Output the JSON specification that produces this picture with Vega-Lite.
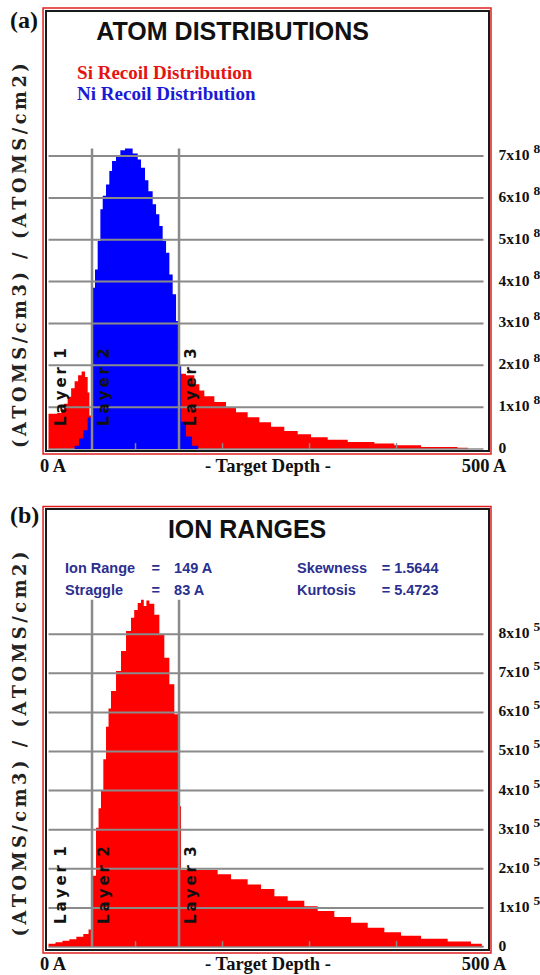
{
  "$schema": "https://vega.github.io/schema/vega-lite/v6.json",
  "background": "white",
  "padding": {"left": 8, "top": 6, "right": 0, "bottom": 0},
  "spacing": 58,
  "bounds": "flush",
  "resolve": {"scale": {"x": "independent", "y": "independent"}},
  "config": {
    "view": {"stroke": "#1a1a1a", "strokeWidth": 2},
    "axis": {"grid": false, "ticks": false, "domain": false}
  },
  "datasets": {
    "one": [{}],
    "atoms": [
      {"series": "Si", "depth": 0, "conc": 8.4e7},
      {"series": "Si", "depth": 5, "conc": 8.4e7},
      {"series": "Si", "depth": 10, "conc": 8.6e7},
      {"series": "Si", "depth": 15, "conc": 9.5e7},
      {"series": "Si", "depth": 18, "conc": 1.08e8},
      {"series": "Si", "depth": 22, "conc": 1.25e8},
      {"series": "Si", "depth": 26, "conc": 1.45e8},
      {"series": "Si", "depth": 30, "conc": 1.62e8},
      {"series": "Si", "depth": 34, "conc": 1.76e8},
      {"series": "Si", "depth": 38, "conc": 1.85e8},
      {"series": "Si", "depth": 42, "conc": 1.72e8},
      {"series": "Si", "depth": 45, "conc": 1.35e8},
      {"series": "Si", "depth": 47, "conc": 8.0e7},
      {"series": "Si", "depth": 49, "conc": 0},
      {"series": "Si", "depth": 150, "conc": 1.80e8},
      {"series": "Si", "depth": 158, "conc": 1.76e8},
      {"series": "Si", "depth": 167.6, "conc": 1.55e8},
      {"series": "Si", "depth": 173.4, "conc": 1.40e8},
      {"series": "Si", "depth": 179.1, "conc": 1.26e8},
      {"series": "Si", "depth": 190.6, "conc": 1.12e8},
      {"series": "Si", "depth": 204, "conc": 9.8e7},
      {"series": "Si", "depth": 215.5, "conc": 8.8e7},
      {"series": "Si", "depth": 228.9, "conc": 7.6e7},
      {"series": "Si", "depth": 242.3, "conc": 6.4e7},
      {"series": "Si", "depth": 255.7, "conc": 5.3e7},
      {"series": "Si", "depth": 271, "conc": 4.3e7},
      {"series": "Si", "depth": 286.4, "conc": 3.5e7},
      {"series": "Si", "depth": 301.7, "conc": 2.8e7},
      {"series": "Si", "depth": 320.9, "conc": 2.2e7},
      {"series": "Si", "depth": 343.9, "conc": 1.7e7},
      {"series": "Si", "depth": 374.5, "conc": 1.3e7},
      {"series": "Si", "depth": 397.5, "conc": 9.0e6},
      {"series": "Si", "depth": 428.2, "conc": 5.0e6},
      {"series": "Si", "depth": 470, "conc": 3.0e6},
      {"series": "Si", "depth": 482, "conc": 0},
      {"series": "Si", "depth": 500, "conc": 0},
      {"series": "Ni", "depth": 0, "conc": 0},
      {"series": "Ni", "depth": 30, "conc": 8.0e6},
      {"series": "Ni", "depth": 35, "conc": 2.5e7},
      {"series": "Ni", "depth": 40, "conc": 4.5e7},
      {"series": "Ni", "depth": 45, "conc": 7.5e7},
      {"series": "Ni", "depth": 50, "conc": 3.85e8},
      {"series": "Ni", "depth": 53.4, "conc": 4.29e8},
      {"series": "Ni", "depth": 56.5, "conc": 4.97e8},
      {"series": "Ni", "depth": 59.6, "conc": 5.73e8},
      {"series": "Ni", "depth": 62.3, "conc": 6.05e8},
      {"series": "Ni", "depth": 66.1, "conc": 6.32e8},
      {"series": "Ni", "depth": 69.9, "conc": 6.64e8},
      {"series": "Ni", "depth": 73.0, "conc": 6.88e8},
      {"series": "Ni", "depth": 77.6, "conc": 7.00e8},
      {"series": "Ni", "depth": 82.6, "conc": 7.14e8},
      {"series": "Ni", "depth": 87.9, "conc": 7.18e8},
      {"series": "Ni", "depth": 96.7, "conc": 7.06e8},
      {"series": "Ni", "depth": 102.5, "conc": 6.92e8},
      {"series": "Ni", "depth": 106.3, "conc": 6.72e8},
      {"series": "Ni", "depth": 110.9, "conc": 6.42e8},
      {"series": "Ni", "depth": 114.8, "conc": 6.16e8},
      {"series": "Ni", "depth": 119.7, "conc": 5.85e8},
      {"series": "Ni", "depth": 123.6, "conc": 5.61e8},
      {"series": "Ni", "depth": 127.4, "conc": 5.33e8},
      {"series": "Ni", "depth": 131.2, "conc": 4.97e8},
      {"series": "Ni", "depth": 135.1, "conc": 4.69e8},
      {"series": "Ni", "depth": 138.9, "conc": 4.17e8},
      {"series": "Ni", "depth": 142.7, "conc": 3.70e8},
      {"series": "Ni", "depth": 146.6, "conc": 3.06e8},
      {"series": "Ni", "depth": 150, "conc": 1.98e8},
      {"series": "Ni", "depth": 152.5, "conc": 6.5e7},
      {"series": "Ni", "depth": 158, "conc": 3.0e7},
      {"series": "Ni", "depth": 165, "conc": 8.0e6},
      {"series": "Ni", "depth": 172, "conc": 0},
      {"series": "Ni", "depth": 500, "conc": 0}
    ],
    "ions": [
      {"depth": 0, "conc": 8000},
      {"depth": 8, "conc": 12000},
      {"depth": 16, "conc": 16000},
      {"depth": 24, "conc": 20000},
      {"depth": 32, "conc": 26000},
      {"depth": 40, "conc": 33000},
      {"depth": 46, "conc": 45000},
      {"depth": 50, "conc": 182000},
      {"depth": 54.6, "conc": 305000},
      {"depth": 57.5, "conc": 355000},
      {"depth": 60.3, "conc": 399000},
      {"depth": 63, "conc": 480000},
      {"depth": 66.1, "conc": 563000},
      {"depth": 69, "conc": 610000},
      {"depth": 71.8, "conc": 655000},
      {"depth": 77.6, "conc": 706000},
      {"depth": 83.3, "conc": 757000},
      {"depth": 89.1, "conc": 808000},
      {"depth": 94.8, "conc": 842000},
      {"depth": 98.5, "conc": 862000},
      {"depth": 102.5, "conc": 880000},
      {"depth": 106.3, "conc": 888000},
      {"depth": 109.5, "conc": 872000},
      {"depth": 112.5, "conc": 886000},
      {"depth": 115.9, "conc": 878000},
      {"depth": 121.6, "conc": 850000},
      {"depth": 127.4, "conc": 800000},
      {"depth": 133.1, "conc": 740000},
      {"depth": 138.9, "conc": 672000},
      {"depth": 144.6, "conc": 595000},
      {"depth": 150, "conc": 360000},
      {"depth": 152.3, "conc": 197000},
      {"depth": 194.4, "conc": 186000},
      {"depth": 209.8, "conc": 173000},
      {"depth": 228.9, "conc": 160000},
      {"depth": 244.3, "conc": 148000},
      {"depth": 259.6, "conc": 130000},
      {"depth": 274.9, "conc": 118000},
      {"depth": 294, "conc": 104000},
      {"depth": 309.4, "conc": 92000},
      {"depth": 328.5, "conc": 77000},
      {"depth": 347.7, "conc": 62000},
      {"depth": 366.9, "conc": 49000},
      {"depth": 386, "conc": 38000},
      {"depth": 405.2, "conc": 29000},
      {"depth": 428.2, "conc": 21000},
      {"depth": 458.8, "conc": 14000},
      {"depth": 485.6, "conc": 8000},
      {"depth": 498, "conc": 3000},
      {"depth": 500, "conc": 0}
    ],
    "gridA": [
      {"level": 1e8}, {"level": 2e8}, {"level": 3e8}, {"level": 4e8},
      {"level": 5e8}, {"level": 6e8}, {"level": 7e8}
    ],
    "gridB": [
      {"level": 1e5}, {"level": 2e5}, {"level": 3e5}, {"level": 4e5},
      {"level": 5e5}, {"level": 6e5}, {"level": 7e5}, {"level": 8e5}
    ],
    "layers": [
      {"start": 0, "label": "L\u2009a\u2009y\u2009e\u2009r \u20091"},
      {"start": 50, "label": "L\u2009a\u2009y\u2009e\u2009r \u20092"},
      {"start": 150, "label": "L\u2009a\u2009y\u2009e\u2009r \u20093"}
    ],
    "xticks": [{"depth": 100}, {"depth": 200}, {"depth": 300}, {"depth": 400}]
  },
  "vconcat": [
    {
      "width": 443,
      "height": 440,
      "data": {"name": "one"},
      "layer": [
        {
          "data": {"name": "atoms"},
          "transform": [{"filter": "datum.series === 'Si'"}],
          "mark": {"type": "area", "interpolate": "step-after"},
          "encoding": {
            "x": {
              "field": "depth", "type": "quantitative",
              "scale": {"domain": [-2.9, 506.3], "nice": false, "zero": false},
              "axis": {
                "values": [0, 500],
                "labelExpr": "datum.value + ' A'",
                "labelFont": "Liberation Serif", "labelFontWeight": "bold", "labelFontSize": 18.5,
                "labelColor": "#111", "labelPadding": 5, "labelBaseline": "top", "labelFlush": false,
                "labelOffset": {"condition": {"test": "datum.value === 0", "value": 4}, "value": 0},
                "title": "- Target Depth -",
                "titleFont": "Liberation Serif", "titleFontWeight": "bold", "titleFontSize": 18.5,
                "titleColor": "#111", "titleY": 20, "titleBaseline": "alphabetic"
              }
            },
            "y": {
              "field": "conc", "type": "quantitative", "stack": null,
              "scale": {"domain": [-4.8e6, 1.0466e9], "nice": false, "zero": false},
              "axis": {
                "orient": "right",
                "values": [0, 1e8, 2e8, 3e8, 4e8, 5e8, 6e8, 7e8],
                "labelExpr": "datum.value == 0 ? '0' : format(datum.value / 1e8, 'd') + 'x10'",
                "labelFont": "Liberation Serif", "labelFontWeight": "bold", "labelFontSize": 15.5,
                "labelColor": "#111", "labelPadding": 9, "labelAlign": "left", "labelBaseline": "middle",
                "labelOffset": -1.5, "labelOverlap": false,
                "title": null
              }
            },
            "color": {
              "field": "series", "type": "nominal",
              "scale": {"domain": ["Si", "Ni"], "range": ["#ff0000", "#0000ff"]},
              "legend": null
            }
          }
        },
        {
          "mark": {"type": "rect", "filled": false, "stroke": "#e02020", "strokeWidth": 1.5},
          "encoding": {
            "x": {"datum": -6.3, "type": "quantitative"},
            "x2": {"datum": 508.6},
            "y": {"datum": 1.0538e9, "type": "quantitative"},
            "y2": {"datum": -1.19e7}
          }
        },
        {
          "mark": {"type": "rule", "color": "#8a8a8a", "strokeWidth": 1.5},
          "encoding": {
            "x": {"datum": 0, "type": "quantitative"},
            "x2": {"datum": 500},
            "y": {"datum": 0, "type": "quantitative"}
          }
        },
        {
          "data": {"name": "atoms"},
          "transform": [{"filter": "datum.series === 'Ni'"}],
          "mark": {"type": "area", "interpolate": "step-after"},
          "encoding": {
            "x": {"field": "depth", "type": "quantitative"},
            "y": {"field": "conc", "type": "quantitative", "stack": null},
            "color": {"field": "series", "type": "nominal", "legend": null}
          }
        },
        {
          "data": {"name": "gridA"},
          "mark": {"type": "rule", "color": "#8a8a8a", "strokeWidth": 2},
          "encoding": {
            "x": {"datum": 0, "type": "quantitative"},
            "x2": {"datum": 500},
            "y": {"field": "level", "type": "quantitative"}
          }
        },
        {
          "data": {"name": "layers"},
          "transform": [{"filter": "datum.start > 0"}],
          "mark": {"type": "rule", "color": "#8a8a8a", "strokeWidth": 2.5},
          "encoding": {
            "x": {"field": "start", "type": "quantitative"},
            "y": {"datum": 0, "type": "quantitative"},
            "y2": {"datum": 7.18e8}
          }
        },
        {
          "data": {"name": "xticks"},
          "mark": {"type": "rule", "color": "#8a8a8a", "strokeWidth": 1.5},
          "encoding": {
            "x": {"field": "depth", "type": "quantitative"},
            "y": {"datum": 0, "type": "quantitative"},
            "y2": {"datum": 1.4e7}
          }
        },
        {
          "data": {"name": "layers"},
          "mark": {"type": "text", "angle": 270, "align": "left", "baseline": "middle", "dx": 23, "dy": 12,
                   "font": "DejaVu Sans", "fontWeight": "bold", "fontSize": 15, "color": "#111"},
          "encoding": {
            "x": {"field": "start", "type": "quantitative"},
            "y": {"datum": 0, "type": "quantitative"},
            "text": {"field": "label"}
          }
        },
        {
          "data": {"name": "gridA"},
          "mark": {"type": "text", "text": "8", "align": "left", "baseline": "middle", "dx": 50, "dy": -7,
                   "font": "Liberation Serif", "fontWeight": "bold", "fontSize": 13.5, "color": "#111"},
          "encoding": {
            "x": {"datum": 500, "type": "quantitative"},
            "y": {"field": "level", "type": "quantitative"}
          }
        },
        {
          "mark": {"type": "text", "text": "ATOM DISTRIBUTIONS", "align": "center", "baseline": "alphabetic",
                   "font": "Liberation Sans", "fontWeight": "bold", "fontSize": 25, "color": "#111"},
          "encoding": {
            "x": {"datum": 211.7, "type": "quantitative"},
            "y": {"datum": 9.78e8, "type": "quantitative"}
          }
        },
        {
          "mark": {"type": "text", "text": "Si Recoil Distribution", "align": "left", "baseline": "alphabetic",
                   "font": "Liberation Serif", "fontWeight": "bold", "fontSize": 19, "color": "#e41414"},
          "encoding": {
            "x": {"datum": 32.8, "type": "quantitative"},
            "y": {"datum": 8.84e8, "type": "quantitative"}
          }
        },
        {
          "mark": {"type": "text", "text": "Ni Recoil Distribution", "align": "left", "baseline": "alphabetic",
                   "font": "Liberation Serif", "fontWeight": "bold", "fontSize": 19, "color": "#1a1ad6"},
          "encoding": {
            "x": {"datum": 32.8, "type": "quantitative"},
            "y": {"datum": 8.35e8, "type": "quantitative"}
          }
        },
        {
          "mark": {"type": "text", "text": "(\u2009A\u2009T\u2009O\u2009M\u2009S\u2009/\u2009c\u2009m\u20093\u2009)\u2009 \u2009/\u2009 \u2009(\u2009A\u2009T\u2009O\u2009M\u2009S\u2009/\u2009c\u2009m\u20092\u2009)",
                   "angle": 270, "align": "center", "baseline": "middle",
                   "font": "DejaVu Serif", "fontWeight": "bold", "fontSize": 17.8, "color": "#222"},
          "encoding": {
            "x": {"datum": -31.6, "type": "quantitative"},
            "y": {"datum": 4.62e8, "type": "quantitative"}
          }
        },
        {
          "mark": {"type": "text", "text": "(a)", "align": "left", "baseline": "alphabetic",
                   "font": "Liberation Serif", "fontWeight": "bold", "fontSize": 24, "color": "#111"},
          "encoding": {
            "x": {"datum": -44.3, "type": "quantitative"},
            "y": {"datum": 1.006e9, "type": "quantitative"}
          }
        }
      ]
    },
    {
      "width": 443,
      "height": 441,
      "data": {"name": "one"},
      "layer": [
        {
          "data": {"name": "ions"},
          "mark": {"type": "area", "interpolate": "step-after", "color": "#ff0000"},
          "encoding": {
            "x": {
              "field": "depth", "type": "quantitative",
              "scale": {"domain": [-2.9, 506.3], "nice": false, "zero": false},
              "axis": {
                "values": [0, 500],
                "labelExpr": "datum.value + ' A'",
                "labelFont": "Liberation Serif", "labelFontWeight": "bold", "labelFontSize": 18.5,
                "labelColor": "#111", "labelPadding": 4, "labelBaseline": "top", "labelFlush": false,
                "labelOffset": {"condition": {"test": "datum.value === 0", "value": 4}, "value": 0},
                "title": "- Target Depth -",
                "titleFont": "Liberation Serif", "titleFontWeight": "bold", "titleFontSize": 18.5,
                "titleColor": "#111", "titleY": 19, "titleBaseline": "alphabetic"
              }
            },
            "y": {
              "field": "conc", "type": "quantitative", "stack": null,
              "scale": {"domain": [-7700, 1120200], "nice": false, "zero": false},
              "axis": {
                "orient": "right",
                "values": [0, 1e5, 2e5, 3e5, 4e5, 5e5, 6e5, 7e5, 8e5],
                "labelExpr": "datum.value == 0 ? '0' : format(datum.value / 1e5, 'd') + 'x10'",
                "labelFont": "Liberation Serif", "labelFontWeight": "bold", "labelFontSize": 15.5,
                "labelColor": "#111", "labelPadding": 9, "labelAlign": "left", "labelBaseline": "middle",
                "labelOffset": -1.5, "labelOverlap": false,
                "title": null
              }
            }
          }
        },
        {
          "mark": {"type": "rect", "filled": false, "stroke": "#e02020", "strokeWidth": 1.5},
          "encoding": {
            "x": {"datum": -6.3, "type": "quantitative"},
            "x2": {"datum": 508.6},
            "y": {"datum": 1126600, "type": "quantitative"},
            "y2": {"datum": -15300}
          }
        },
        {
          "mark": {"type": "rule", "color": "#8a8a8a", "strokeWidth": 1.5},
          "encoding": {
            "x": {"datum": 0, "type": "quantitative"},
            "x2": {"datum": 500},
            "y": {"datum": 0, "type": "quantitative"}
          }
        },
        {
          "data": {"name": "gridB"},
          "mark": {"type": "rule", "color": "#8a8a8a", "strokeWidth": 2},
          "encoding": {
            "x": {"datum": 0, "type": "quantitative"},
            "x2": {"datum": 500},
            "y": {"field": "level", "type": "quantitative"}
          }
        },
        {
          "data": {"name": "layers"},
          "transform": [{"filter": "datum.start > 0"}],
          "mark": {"type": "rule", "color": "#8a8a8a", "strokeWidth": 2.5},
          "encoding": {
            "x": {"field": "start", "type": "quantitative"},
            "y": {"datum": 0, "type": "quantitative"},
            "y2": {"datum": 888000}
          }
        },
        {
          "data": {"name": "xticks"},
          "mark": {"type": "rule", "color": "#8a8a8a", "strokeWidth": 1.5},
          "encoding": {
            "x": {"field": "depth", "type": "quantitative"},
            "y": {"datum": 0, "type": "quantitative"},
            "y2": {"datum": 15000}
          }
        },
        {
          "data": {"name": "layers"},
          "mark": {"type": "text", "angle": 270, "align": "left", "baseline": "middle", "dx": 23, "dy": 12,
                   "font": "DejaVu Sans", "fontWeight": "bold", "fontSize": 15, "color": "#111"},
          "encoding": {
            "x": {"field": "start", "type": "quantitative"},
            "y": {"datum": 0, "type": "quantitative"},
            "text": {"field": "label"}
          }
        },
        {
          "data": {"name": "gridB"},
          "mark": {"type": "text", "text": "5", "align": "left", "baseline": "middle", "dx": 50, "dy": -7,
                   "font": "Liberation Serif", "fontWeight": "bold", "fontSize": 13.5, "color": "#111"},
          "encoding": {
            "x": {"datum": 500, "type": "quantitative"},
            "y": {"field": "level", "type": "quantitative"}
          }
        },
        {
          "mark": {"type": "text", "text": "ION RANGES", "align": "center", "baseline": "alphabetic",
                   "font": "Liberation Sans", "fontWeight": "bold", "fontSize": 25, "color": "#111"},
          "encoding": {
            "x": {"datum": 228.2, "type": "quantitative"},
            "y": {"datum": 1047000, "type": "quantitative"}
          }
        },
        {
          "mark": {"type": "text", "text": "Ion Range", "align": "left", "baseline": "alphabetic",
                   "font": "Liberation Sans", "fontWeight": "bold", "fontSize": 14.5, "color": "#2b2f8f"},
          "encoding": {
            "x": {"datum": 19.0, "type": "quantitative"},
            "y": {"datum": 957000, "type": "quantitative"}
          }
        },
        {
          "mark": {"type": "text", "text": "=", "align": "left", "baseline": "alphabetic",
                   "font": "Liberation Sans", "fontWeight": "bold", "fontSize": 14.5, "color": "#2b2f8f"},
          "encoding": {
            "x": {"datum": 118.4, "type": "quantitative"},
            "y": {"datum": 957000, "type": "quantitative"}
          }
        },
        {
          "mark": {"type": "text", "text": "149 A", "align": "left", "baseline": "alphabetic",
                   "font": "Liberation Sans", "fontWeight": "bold", "fontSize": 14.5, "color": "#2b2f8f"},
          "encoding": {
            "x": {"datum": 144.3, "type": "quantitative"},
            "y": {"datum": 957000, "type": "quantitative"}
          }
        },
        {
          "mark": {"type": "text", "text": "Straggle", "align": "left", "baseline": "alphabetic",
                   "font": "Liberation Sans", "fontWeight": "bold", "fontSize": 14.5, "color": "#2b2f8f"},
          "encoding": {
            "x": {"datum": 19.0, "type": "quantitative"},
            "y": {"datum": 900000, "type": "quantitative"}
          }
        },
        {
          "mark": {"type": "text", "text": "=", "align": "left", "baseline": "alphabetic",
                   "font": "Liberation Sans", "fontWeight": "bold", "fontSize": 14.5, "color": "#2b2f8f"},
          "encoding": {
            "x": {"datum": 118.4, "type": "quantitative"},
            "y": {"datum": 900000, "type": "quantitative"}
          }
        },
        {
          "mark": {"type": "text", "text": "83 A", "align": "left", "baseline": "alphabetic",
                   "font": "Liberation Sans", "fontWeight": "bold", "fontSize": 14.5, "color": "#2b2f8f"},
          "encoding": {
            "x": {"datum": 144.3, "type": "quantitative"},
            "y": {"datum": 900000, "type": "quantitative"}
          }
        },
        {
          "mark": {"type": "text", "text": "Skewness", "align": "left", "baseline": "alphabetic",
                   "font": "Liberation Sans", "fontWeight": "bold", "fontSize": 14.5, "color": "#2b2f8f"},
          "encoding": {
            "x": {"datum": 285.6, "type": "quantitative"},
            "y": {"datum": 957000, "type": "quantitative"}
          }
        },
        {
          "mark": {"type": "text", "text": "= 1.5644", "align": "left", "baseline": "alphabetic",
                   "font": "Liberation Sans", "fontWeight": "bold", "fontSize": 14.5, "color": "#2b2f8f"},
          "encoding": {
            "x": {"datum": 382.9, "type": "quantitative"},
            "y": {"datum": 957000, "type": "quantitative"}
          }
        },
        {
          "mark": {"type": "text", "text": "Kurtosis", "align": "left", "baseline": "alphabetic",
                   "font": "Liberation Sans", "fontWeight": "bold", "fontSize": 14.5, "color": "#2b2f8f"},
          "encoding": {
            "x": {"datum": 285.6, "type": "quantitative"},
            "y": {"datum": 900000, "type": "quantitative"}
          }
        },
        {
          "mark": {"type": "text", "text": "= 5.4723", "align": "left", "baseline": "alphabetic",
                   "font": "Liberation Sans", "fontWeight": "bold", "fontSize": 14.5, "color": "#2b2f8f"},
          "encoding": {
            "x": {"datum": 382.9, "type": "quantitative"},
            "y": {"datum": 900000, "type": "quantitative"}
          }
        },
        {
          "mark": {"type": "text", "text": "(\u2009A\u2009T\u2009O\u2009M\u2009S\u2009/\u2009c\u2009m\u20093\u2009)\u2009 \u2009/\u2009 \u2009(\u2009A\u2009T\u2009O\u2009M\u2009S\u2009/\u2009c\u2009m\u20092\u2009)",
                   "angle": 270, "align": "center", "baseline": "middle",
                   "font": "DejaVu Serif", "fontWeight": "bold", "fontSize": 17.8, "color": "#222"},
          "encoding": {
            "x": {"datum": -31.6, "type": "quantitative"},
            "y": {"datum": 519000, "type": "quantitative"}
          }
        },
        {
          "mark": {"type": "text", "text": "(b)", "align": "left", "baseline": "alphabetic",
                   "font": "Liberation Serif", "fontWeight": "bold", "fontSize": 24, "color": "#111"},
          "encoding": {
            "x": {"datum": -44.3, "type": "quantitative"},
            "y": {"datum": 1084000, "type": "quantitative"}
          }
        }
      ]
    }
  ]
}
